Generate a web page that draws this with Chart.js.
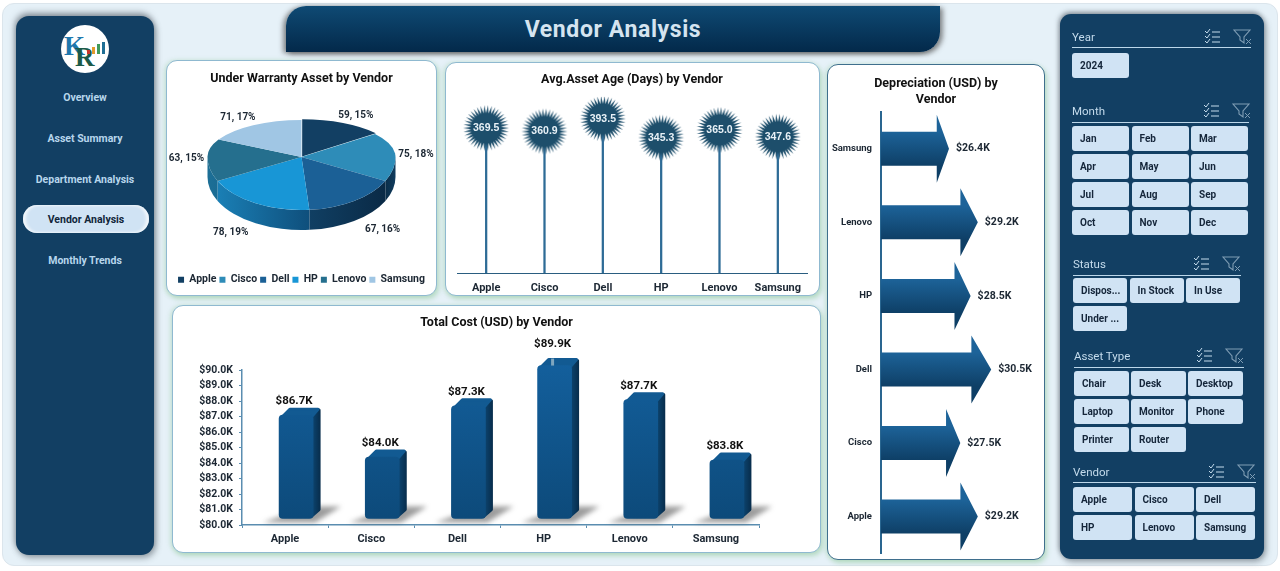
<!DOCTYPE html>
<html>
<head>
<meta charset="utf-8">
<title>Vendor Analysis</title>
<script src="https://cdn.jsdelivr.net/npm/chart.js@4/dist/chart.umd.js"></script>
<style>
  html, body { margin: 0; padding: 0; background: #fff; width: 1280px; height: 571px; overflow: hidden; font-family: Roboto, sans-serif; }
  .abs { position: absolute; box-sizing: border-box; }
  #page { left: 2px; top: 3px; width: 1276px; height: 563px; background: #e6f1f8; border: 1px solid #dbe5ec; border-radius: 12px; }
  #nav { left: 16px; top: 16px; width: 138px; height: 539px; background: #123f63; border-radius: 13px; box-shadow: -1px -3px 6px rgba(60,70,80,.55), 2px 3px 6px rgba(60,70,80,.45); }
  #logo { left: 61px; top: 25px; width: 48px; height: 48px; border-radius: 50%; background: #fff; overflow: hidden; }
  .navItem { left: 16px; width: 138px; text-align: center; font-size: 10.5px; font-weight: 700; color: #b7d6ec; line-height: 14px; }
  #navActive { left: 23px; top: 205px; width: 126px; height: 28px; background: #d0e3f4; border-radius: 14px; color: #10263a; text-align: center; font-size: 10.5px; font-weight: 700; line-height: 30px; box-shadow: inset 3px 0 3px rgba(255,255,255,.7), inset -3px 0 3px rgba(255,255,255,.7); }
  #header { left: 286px; top: 6px; width: 654px; height: 46px; background: linear-gradient(#0f4a74, #03294a); border-radius: 20px 0 20px 0; box-shadow: -3px 1px 5px rgba(70,70,70,.6), 3px 2px 5px rgba(70,70,70,.6); color: #d5e4f0; text-align: center; font-size: 23px; font-weight: 700; line-height: 48px; letter-spacing: .6px; }
  .panel { background: #fff; border: 1px solid #8fb9d0; border-radius: 11px; box-shadow: 2px 3px 5px rgba(130,195,140,.45), -2px 0 4px rgba(130,195,140,.25); }
  .panel canvas { position: absolute; left: -1px; top: -1px; }
  #slicers { left: 1060px; top: 14px; width: 204px; height: 545px; background: #123f63; border-radius: 11px; box-shadow: -1px -2px 5px rgba(60,70,80,.55), 2px 3px 6px rgba(60,70,80,.45); }
  .slTitle { font-size: 11.5px; color: #c4dbec; line-height: 14px; }
  .slLine { height: 1px; background: #bcd7ea; }
  .slBtn { background: #d0e3f4; border-radius: 3px; font-size: 10px; font-weight: 700; color: #15263a; line-height: 25px; padding-left: 8px; white-space: nowrap; overflow: hidden; }
</style>
</head>
<body>
<div id="page" class="abs"></div>
<div id="nav" class="abs"></div>
<div id="logo" class="abs">
  <svg width="48" height="48" viewBox="0 0 48 48">
    <text x="3" y="30" font-family="Liberation Serif" font-size="27" font-weight="700" fill="#1f77ad">K</text>
    <text x="14" y="41" font-family="Liberation Serif" font-size="27" font-weight="700" fill="#1c5a48">R</text>
    <rect x="26" y="25" width="3" height="4" fill="#c9352c"/><rect x="31" y="22" width="3" height="7" fill="#e39a2c"/>
    <rect x="36" y="19" width="3" height="10" fill="#3f9a5a"/><rect x="41" y="17" width="3" height="12" fill="#1f6f95"/>
  </svg>
</div>
<div id="navItems"></div>
<div id="header" class="abs">Vendor Analysis</div>

<div class="abs panel" style="left:166px;top:60px;width:271px;height:236px"><canvas id="pieChart" width="271" height="236"></canvas></div>
<div class="abs panel" style="left:445px;top:62px;width:375px;height:234px"><canvas id="ageChart" width="375" height="234"></canvas></div>
<div class="abs panel" style="left:172px;top:305px;width:649px;height:248px"><canvas id="costChart" width="649" height="248"></canvas></div>
<div class="abs panel" style="left:827px;top:64px;width:218px;height:496px;border-color:#3f6f8d"><canvas id="deprChart" width="218" height="496"></canvas></div>

<div id="slicers" class="abs"></div>

<script>
const vendors = ["Apple", "Cisco", "Dell", "HP", "Lenovo", "Samsung"];
const warrantyAssets = [59, 75, 67, 78, 63, 71];
const warrantyPct = [15, 18, 16, 19, 15, 17];
const avgAge = [369.5, 360.9, 393.5, 345.3, 365.0, 347.6];
const totalCost = [86.7, 84.0, 87.3, 89.9, 87.7, 83.8];
const depreciation = [29.2, 27.5, 30.5, 28.5, 29.2, 26.4];

const navLabels = ["Overview", "Asset Summary", "Department Analysis", "Vendor Analysis", "Monthly Trends"];
const yearItems = ["2024"];
const monthItems = ["Jan", "Feb", "Mar", "Apr", "May", "Jun", "Jul", "Aug", "Sep", "Oct", "Nov", "Dec"];
const statusItems = ["Dispos...", "In Stock", "In Use", "Under ..."];
const typeItems = ["Chair", "Desk", "Desktop", "Laptop", "Monitor", "Phone", "Printer", "Router"];
const vendorItems = vendors;

const pieColors = ["#123f63", "#2e8cb8", "#1b6096", "#1896d6", "#256f8e", "#a0c6e4"];
const wallColors = [["#0b2f4c", "#0b2f4c"], ["#103c5e", "#0a2d49"], ["#0a2a46", "#103f63"], ["#0f4f7c", "#1a7fb5"], ["#1a6c94", "#1d6f96"], ["#8fb4cf", "#8fb4cf"]];

Chart.defaults.font.family = "Roboto, sans-serif";
Chart.defaults.animation = false;
Chart.defaults.events = [];
Chart.defaults.plugins.tooltip.enabled = false;
Chart.defaults.plugins.legend.display = false;

function titleOpts(text, top, bottom) {
  return { display: true, text, color: "#111", font: { size: 12.5, weight: "700", lineHeight: 1.25 }, padding: { top, bottom } };
}

// ---- side bits (plain html)
const navTops = [91, 132, 173, 0, 254];
navLabels.forEach((t, i) => {
  const d = document.createElement("div");
  d.textContent = t;
  if (i == 3) { d.id = "navActive"; d.className = "abs"; }
  else { d.className = "abs navItem"; d.style.top = navTops[i] + "px"; }
  document.getElementById("navItems").appendChild(d);
});

function icons(x, y) {
  return `<svg class="abs" style="left:${x}px;top:${y}px" width="50" height="18" viewBox="0 0 50 18" fill="none">
    <path d="M1 3l2 2 3-4M1 8l2 2 3-4M1 13l2 2 3-4" stroke="#c4dbec" stroke-width="1"/>
    <path d="M8 4h8M8 9h8M8 14h8" stroke="#c4dbec" stroke-width="1.2"/>
    <path d="M30 2h16l-6 7v6l-4-3V9z" stroke="#7f9db4" stroke-width="1.1"/>
    <path d="M42 11l5 5M47 11l-5 5" stroke="#7f9db4" stroke-width="1"/></svg>`;
}

function slicer(title, items, o) {
  let html = `<div class="abs slTitle" style="left:${o.x}px;top:${o.titleY}px">${title}</div>`;
  html += `<div class="abs slLine" style="left:${o.x}px;top:${o.lineY}px;width:${o.lineW}px"></div>`;
  html += icons(o.iconX, o.titleY - 2);
  items.forEach((t, i) => {
    const c = i % 3, r = Math.floor(i / 3);
    html += `<div class="abs slBtn" style="left:${o.x + c * o.stepX}px;top:${o.btnY + r * 28}px;width:${o.btnW}px;height:25px">${t}</div>`;
  });
  document.body.insertAdjacentHTML("beforeend", html);
}
slicer("Year", yearItems, { x: 1072, titleY: 30, lineY: 47, lineW: 179, iconX: 1204, btnY: 53, stepX: 59, btnW: 57 });
slicer("Month", monthItems, { x: 1072, titleY: 104, lineY: 122, lineW: 177, iconX: 1203, btnY: 126, stepX: 59.5, btnW: 57 });
slicer("Status", statusItems, { x: 1073, titleY: 257, lineY: 275, lineW: 168, iconX: 1193, btnY: 278, stepX: 56.5, btnW: 54 });
slicer("Asset Type", typeItems, { x: 1074, titleY: 349, lineY: 367, lineW: 170, iconX: 1196, btnY: 371, stepX: 57, btnW: 55 });
slicer("Vendor", vendorItems, { x: 1073, titleY: 465, lineY: 482, lineW: 183, iconX: 1208, btnY: 487, stepX: 61.5, btnW: 59 });

// ---- pie with fake perspective: far half squashed more than the near half, wall underneath
const pieApexY = 97, pieRx = 94, pieFarRy = 37, pieNearRy = 53, pieDepth = 20;

const pie3d = {
  id: "pie3d",
  beforeDatasetsDraw(chart) {
    const ctx = chart.ctx, arcs = chart.getDatasetMeta(0).data, cx = arcs[0].x;
    ctx.save();
    arcs.forEach((a, i) => {
      const a0 = Math.max(a.startAngle, 0), a1 = Math.min(a.endAngle, Math.PI);
      if (a1 <= a0) return;
      const x0 = cx + Math.cos(a1) * pieRx, x1 = cx + Math.cos(a0) * pieRx;
      const g = ctx.createLinearGradient(x0, 0, x1, 0);
      g.addColorStop(0, wallColors[i][1]);
      g.addColorStop(1, wallColors[i][0]);
      ctx.fillStyle = g;
      ctx.beginPath();
      ctx.ellipse(cx, pieApexY, pieRx, pieNearRy, 0, a0, a1);
      ctx.ellipse(cx, pieApexY + pieDepth, pieRx, pieNearRy, 0, a1, a0, true);
      ctx.closePath();
      ctx.fill();
    });
    ctx.restore();

    const half = (y0, y1, ry) => {
      ctx.save();
      ctx.beginPath();
      ctx.rect(0, y0, chart.width, y1 - y0);
      ctx.clip();
      ctx.translate(cx, pieApexY);
      ctx.scale(1, ry / pieRx);
      ctx.translate(-cx, -arcs[0].y);
      arcs.forEach(a => a.draw(ctx));
      ctx.restore();
    };
    half(0, pieApexY, pieFarRy);
    half(pieApexY, chart.height, pieNearRy);

    ctx.save();
    ctx.font = "700 10px Roboto";
    ctx.fillStyle = "#1c2733";
    ctx.textAlign = "center";
    ctx.textBaseline = "middle";
    arcs.forEach((a, i) => {
      const mid = (a.startAngle + a.endAngle) / 2, c = Math.cos(mid), s = Math.sin(mid);
      const top = s < 0.2;
      const rx = top ? 115 + 18 * (1 - Math.abs(c)) : 145;
      const x = a.x + c * rx;
      const y = top ? pieApexY + s * 48 + 2 : pieApexY + s * 54 + 28;
      ctx.fillText(warrantyAssets[i] + ", " + warrantyPct[i] + "%", x, y);
    });
    ctx.restore();
    return false;
  }
};

new Chart(document.getElementById("pieChart"), {
  type: "pie",
  data: { labels: vendors, datasets: [{ data: warrantyAssets, backgroundColor: pieColors, borderWidth: 0, radius: pieRx, offset: [6, 0, 0, 0, 0, 0], clip: false }] },
  options: {
    responsive: false,
    layout: { padding: { bottom: 1 } },
    plugins: {
      title: titleOpts("Under Warranty Asset by Vendor", 11, 4),
      legend: { display: true, position: "bottom", labels: { boxWidth: 6, boxHeight: 6, padding: 3, color: "#1c2733", font: { size: 10.5, weight: "700" } } }
    }
  },
  plugins: [pie3d]
});

// ---- lollipops
function makeBurst(r, inner, spikes) {
  const c = document.createElement("canvas");
  c.width = c.height = r * 2 + 2;
  const g = c.getContext("2d"), m = r + 1;
  g.fillStyle = "#1d4e6b";
  g.beginPath();
  for (let i = 0; i < spikes * 2; i++) {
    const ang = i * Math.PI / spikes, rad = i % 2 ? inner : r;
    g.lineTo(m + Math.cos(ang) * rad, m + Math.sin(ang) * rad);
  }
  g.closePath();
  g.fill();
  return c;
}

const burstLabels = {
  id: "burstLabels",
  afterDatasetsDraw(chart) {
    const ctx = chart.ctx;
    ctx.save();
    ctx.font = "700 10.5px 'Liberation Sans'";
    ctx.fillStyle = "#e8f1f7";
    ctx.textAlign = "center";
    ctx.textBaseline = "middle";
    chart.getDatasetMeta(0).data.forEach((p, i) => ctx.fillText(avgAge[i].toFixed(1), p.x, p.y));
    ctx.restore();
  }
};

new Chart(document.getElementById("ageChart"), {
  data: {
    labels: vendors,
    datasets: [
      { type: "line", data: avgAge, showLine: false, pointStyle: makeBurst(23, 15, 38), pointRadius: 23, order: 0 },
      { type: "bar", data: avgAge, backgroundColor: "#2e6b96", barThickness: 1.6, order: 1 }
    ]
  },
  options: {
    responsive: false,
    layout: { autoPadding: false, padding: { left: 12, right: 13 } },
    plugins: { title: titleOpts("Avg.Asset Age (Days) by Vendor", 10, 9) },
    scales: {
      x: {
        afterFit: s => { s.height = 23; },
        grid: { display: false },
        border: { color: "#2a5d80", width: 1 },
        ticks: { color: "#1c2733", font: { size: 11, weight: "700" }, padding: 1 }
      },
      y: { display: false, min: 0, max: 450 }
    }
  },
  plugins: [burstLabels]
});

// ---- total cost, column faces added around the library's bars
const shiftX = 11, shiftY = -6, faceD = 8;

const bars3d = {
  id: "bars3d",
  beforeDatasetsDraw(chart) {
    const ctx = chart.ctx;
    chart.getDatasetMeta(0).data.forEach(b => {
      const l = b.x - b.width / 2 + shiftX, r = l + b.width, top = b.y + shiftY, bot = b.base + shiftY;
      ctx.save();
      ctx.filter = "blur(2.5px)";
      ctx.fillStyle = "rgba(90,90,90,.6)";
      ctx.beginPath();
      ctx.moveTo(l - 16, bot + 4);
      ctx.lineTo(r + 2, bot + 4);
      ctx.lineTo(r + 28, bot - 12);
      ctx.lineTo(r - 5, bot - 12);
      ctx.closePath();
      ctx.fill();
      ctx.restore();

      const side = ctx.createLinearGradient(r, 0, r + faceD, 0);
      side.addColorStop(0, "#0c426c");
      side.addColorStop(1, "#072b49");
      ctx.fillStyle = side;
      ctx.strokeStyle = side;
      ctx.lineWidth = 3;
      ctx.lineJoin = "round";
      ctx.beginPath();
      ctx.moveTo(r - 2, top + 3);
      ctx.lineTo(r + faceD - 2, top - faceD + 3);
      ctx.lineTo(r + faceD - 2, bot - faceD - 1);
      ctx.lineTo(r - 2, bot - 2);
      ctx.closePath();
      ctx.fill();
      ctx.stroke();

      ctx.fillStyle = ctx.strokeStyle = "#125a92";
      ctx.beginPath();
      ctx.moveTo(l + 3, top + 2);
      ctx.lineTo(l + faceD + 3, top - faceD + 2);
      ctx.lineTo(r + faceD - 3, top - faceD + 2);
      ctx.lineTo(r - 2, top + 2);
      ctx.closePath();
      ctx.fill();
      ctx.stroke();
    });
    ctx.save();
    ctx.translate(shiftX, shiftY);
  },
  afterDatasetsDraw(chart) {
    const ctx = chart.ctx;
    ctx.restore();
    ctx.save();
    ctx.font = "700 11.5px Roboto";
    ctx.fillStyle = "#111";
    ctx.textAlign = "center";
    ctx.textBaseline = "middle";
    chart.getDatasetMeta(0).data.forEach((b, i) => {
      const x = b.x + shiftX - 2, y = b.y + shiftY - 14;
      if (i == 3) {
        ctx.strokeStyle = "#7fa6bf";
        ctx.beginPath();
        ctx.moveTo(x, y + 7);
        ctx.lineTo(x, y + 14);
        ctx.stroke();
        ctx.fillText("$" + totalCost[i].toFixed(1) + "K", x, y - 7);
      } else {
        ctx.fillText("$" + totalCost[i].toFixed(1) + "K", x, y);
      }
    });
    ctx.restore();
  }
};

function frontFill(c) {
  const a = c.chart.chartArea;
  if (!a) return "#0f5790";
  const g = c.chart.ctx.createLinearGradient(0, a.top, 0, a.bottom);
  g.addColorStop(0, "#135f9c");
  g.addColorStop(1, "#0d4a7a");
  return g;
}

new Chart(document.getElementById("costChart"), {
  type: "bar",
  data: { labels: vendors, datasets: [{ data: totalCost, base: 80, backgroundColor: frontFill, barThickness: 34, borderRadius: 4, borderSkipped: false, clip: false }] },
  options: {
    responsive: false,
    plugins: { title: titleOpts("Total Cost (USD) by Vendor", 10, 39.4) },
    scales: {
      x: {
        afterFit: s => { s.height = 28; },
        grid: { drawOnChartArea: false, tickLength: 3, color: "#5a8db0" },
        border: { color: "#5a8db0", width: 1.5 },
        ticks: { color: "#1c2733", font: { size: 11, weight: "700" }, padding: 5 }
      },
      y: {
        afterFit: s => { s.width = 70; },
        min: 80, max: 90,
        grid: { drawOnChartArea: false, tickLength: 3, color: "#5a8db0" },
        border: { color: "#5a8db0", width: 1.5 },
        ticks: { stepSize: 1, autoSkip: false, color: "#1c2733", font: { size: 10.5, weight: "700" }, padding: 6, callback: v => "$" + v.toFixed(1) + "K" }
      },
      // empty axis so the plot keeps its right margin while the title stays centred
      rightGap: {
        position: "right",
        afterFit: s => { s.width = 62; },
        grid: { display: false },
        border: { display: false },
        ticks: { display: false }
      }
    }
  },
  plugins: [bars3d]
});

// ---- depreciation arrows, shaped from the bar elements
const arrows = {
  id: "arrows",
  afterDatasetsDraw(chart) {
    const ctx = chart.ctx;
    ctx.save();
    chart.getDatasetMeta(0).data.forEach((b, i) => {
      const half = b.height / 2, tip = b.x, x0 = b.base, head = tip - (tip - x0) * 0.18;
      const g = ctx.createLinearGradient(0, b.y - half, 0, b.y + half);
      g.addColorStop(0, "#1d6399");
      g.addColorStop(1, "#0e3f66");
      ctx.fillStyle = g;
      ctx.beginPath();
      ctx.moveTo(x0, b.y - half);
      ctx.lineTo(head, b.y - half);
      ctx.lineTo(head, b.y - half * 2);
      ctx.lineTo(tip, b.y);
      ctx.lineTo(head, b.y + half * 2);
      ctx.lineTo(head, b.y + half);
      ctx.lineTo(x0, b.y + half);
      ctx.closePath();
      ctx.fill();
      ctx.font = "700 10.5px Roboto";
      ctx.fillStyle = "#1c2733";
      ctx.textAlign = "left";
      ctx.textBaseline = "middle";
      ctx.fillText("$" + depreciation[i].toFixed(1) + "K", tip + 7, b.y);
    });
    ctx.restore();
  }
};

new Chart(document.getElementById("deprChart"), {
  type: "bar",
  data: { labels: vendors, datasets: [{ data: depreciation, base: 19.8, backgroundColor: "rgba(0,0,0,0)", barThickness: 34 }] },
  options: {
    responsive: false,
    indexAxis: "y",
    layout: { padding: { bottom: 0 } },
    plugins: { title: titleOpts(["Depreciation (USD) by", "Vendor"], 12, 4.75) },
    scales: {
      x: { display: false, min: 19.8, max: 35.72 },
      y: {
        reverse: true,
        afterFit: s => { s.width = 54; },
        grid: { display: false },
        border: { color: "#2a6690", width: 2 },
        ticks: { color: "#1c2733", font: { size: 9.5, weight: "700" }, padding: 1 }
      }
    }
  },
  plugins: [arrows]
});
</script>
</body>
</html>
